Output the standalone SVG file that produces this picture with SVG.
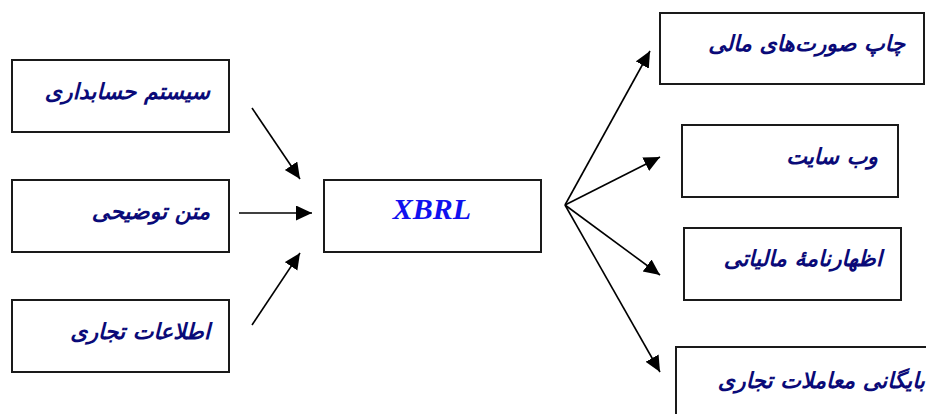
<svg xmlns="http://www.w3.org/2000/svg" width="926" height="414" viewBox="0 0 926 414">
<style>
.box{fill:#fff;stroke:#1a1a1a;stroke-width:2}
.fa{font-family:"DejaVu Sans","Noto Sans",sans-serif;font-size:22px;font-weight:bold;font-style:italic;fill:#0a0a78;text-anchor:end}
.en{font-family:"Liberation Serif",serif;font-size:30px;font-weight:bold;font-style:italic;fill:#1010ee;text-anchor:middle}
.con{stroke:#000;stroke-width:1.6;fill:none;marker-end:url(#ah)}
</style>
<defs>
<marker id="ah" markerUnits="userSpaceOnUse" markerWidth="18" markerHeight="16" refX="16" refY="7.5" orient="auto">
<path d="M0,0 L16,7.5 L0,15 z" fill="#000"/>
</marker>
</defs>
<rect width="926" height="414" fill="#fff"/>
<g id="n1"><rect class="box" x="12" y="60" width="217" height="72"/><text class="fa" x="210" y="99">سیستم حسابداری</text></g>
<g id="n2"><rect class="box" x="12" y="180" width="217" height="72"/><text class="fa" x="210" y="219">متن توضیحی</text></g>
<g id="n3"><rect class="box" x="12" y="300" width="217" height="72"/><text class="fa" x="210" y="339">اطلاعات تجاری</text></g>
<g id="xbrl"><rect class="box" x="324" y="180" width="217" height="72"/><text class="en" x="432" y="219">XBRL</text></g>
<g id="o1"><rect class="box" x="660" y="13" width="264" height="71"/><text class="fa" x="905" y="51">چاپ صورت‌های مالی</text></g>
<g id="o2"><rect class="box" x="682" y="125" width="216" height="72"/><text class="fa" x="878" y="164">وب سایت</text></g>
<g id="o3"><rect class="box" x="684" y="228" width="217" height="72"/><text class="fa" x="882" y="266">اظهارنامهٔ مالیاتی</text></g>
<g id="o4"><rect class="box" x="676" y="347" width="260" height="80"/><text class="fa" x="925" y="388">بایگانی معاملات تجاری</text></g>
<g id="connectors">
<line class="con" x1="252" y1="108" x2="300" y2="179"/>
<line class="con" x1="239" y1="213" x2="312" y2="213"/>
<line class="con" x1="252" y1="325" x2="300" y2="253"/>
<line class="con" x1="565" y1="205" x2="650" y2="51"/>
<line class="con" x1="565" y1="205" x2="660" y2="157"/>
<line class="con" x1="565" y1="205" x2="660" y2="275"/>
<line class="con" x1="565" y1="205" x2="660" y2="372"/>
</g>
</svg>
